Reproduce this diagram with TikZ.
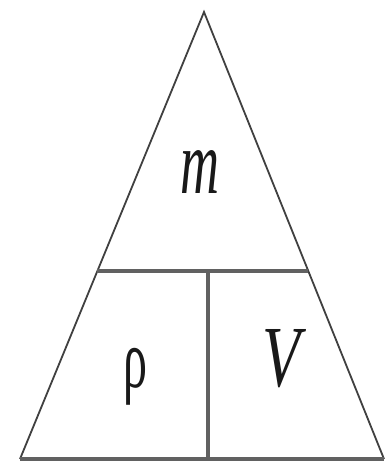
\documentclass[tikz,border=0pt]{standalone}
\usepackage{fontspec}
\usetikzlibrary{calc}
\newfontfamily\grk{Liberation Serif}
\setmainfont{Liberation Serif}
\begin{document}
\begin{tikzpicture}[x=1pt,y=-1pt,
  side/.style={draw=black!75,line width=1.8pt,line join=miter},
  bar/.style={draw=black!62,line width=3.2pt},
  lab/.style={inner sep=0pt,text=black!90}]
\useasboundingbox (0,0) rectangle (385,462);
\coordinate (A) at (204,12);
\coordinate (L) at (20,459);
\coordinate (R) at (384,459);
\coordinate (HL) at ($(A)!0.5794!(L)$);
\coordinate (HR) at ($(A)!0.5794!(R)$);
\coordinate (VT) at (208,272);
\coordinate (VB) at (208,459);
\draw[side] (L) -- (A) -- (R);
\draw[bar] (L) -- (R);
\draw[bar] (HL) -- (HR);
\draw[bar] (VT) -- (VB);
\node[lab] (m) at (200,171.5) {\resizebox{39pt}{43pt}{\itshape m}};
\node[lab] (rho) at (135,376.5) {\resizebox*{24pt}{57pt}{\grk ρ}};
\node[lab] (V) at (282,358.5) {\resizebox{38pt}{57pt}{\itshape V}};
\end{tikzpicture}
\end{document}
